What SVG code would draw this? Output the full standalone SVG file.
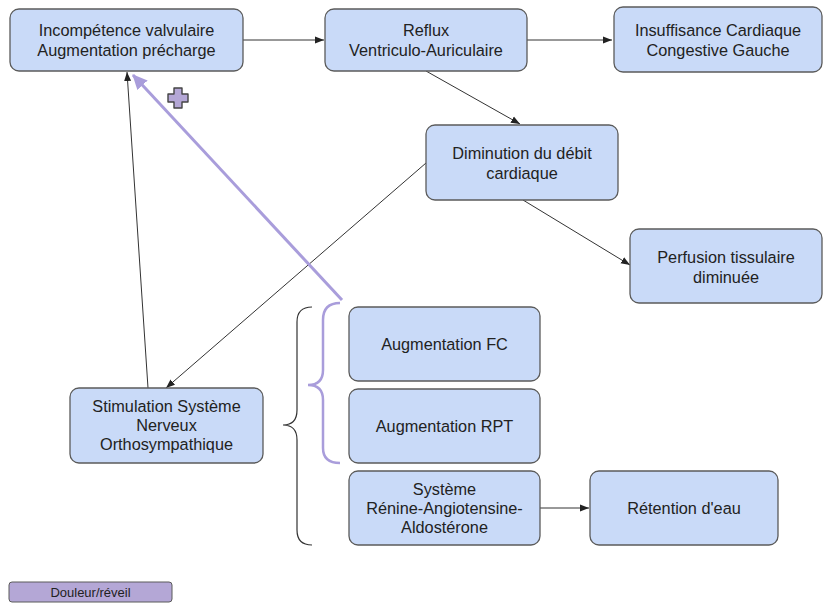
<svg xmlns="http://www.w3.org/2000/svg" width="826" height="605" viewBox="0 0 826 605">
<style>
.n{fill:#c9daf8;stroke:#5b5b5b;stroke-width:1.3}
.t{font-family:"Liberation Sans",Arial,sans-serif;font-size:16.3px;fill:#222;text-anchor:middle}
.c{stroke:#333;stroke-width:1;fill:none}
</style>
<defs>
<marker id="ah" markerWidth="10" markerHeight="8" refX="9" refY="4" orient="auto" markerUnits="userSpaceOnUse"><path d="M0,0.5 L9,4 L0,7.5 z" fill="#222"/></marker>
<marker id="ap" markerWidth="16" markerHeight="14" refX="14" refY="7" orient="auto" markerUnits="userSpaceOnUse"><path d="M0,0 L15,7 L0,14 z" fill="#a99ddb"/></marker>
</defs>
<rect width="826" height="605" fill="#fff"/>
<g id="connectors">
<line class="c" x1="243" y1="40" x2="324" y2="40" marker-end="url(#ah)"/>
<line class="c" x1="527" y1="40" x2="612" y2="40" marker-end="url(#ah)"/>
<line class="c" x1="426" y1="71" x2="520" y2="124" marker-end="url(#ah)"/>
<line class="c" x1="523" y1="200" x2="630" y2="265" marker-end="url(#ah)"/>
<line class="c" x1="426" y1="163" x2="166" y2="388" marker-end="url(#ah)"/>
<line class="c" x1="148" y1="388" x2="127" y2="72" marker-end="url(#ah)"/>
<line class="c" x1="540" y1="508" x2="589" y2="508" marker-end="url(#ah)"/>
<line x1="342" y1="300" x2="133" y2="75" stroke="#a99ddb" stroke-width="3" marker-end="url(#ap)"/>
<path d="M312,307 Q297,307 297,322 L297,410 Q297,425 283,425 Q297,425 297,440 L297,530 Q297,545 312,545" fill="none" stroke="#333" stroke-width="1.2"/>
<path d="M340,303 Q323,303 323,320 L323,370 Q323,385 308,385 Q323,385 323,400 L323,448 Q323,463 340,463" fill="none" stroke="#a99ddb" stroke-width="2.5"/>
</g>
<g id="plus">
<path d="M174,88 h8 v6 h6 v8 h-6 v6 h-8 v-6 h-6 v-8 h6 z" fill="#b4a7d6" stroke="#444" stroke-width="1.4" stroke-linejoin="round"/>
</g>
<g id="n1"><rect class="n" x="10" y="9" width="233" height="62" rx="9"/><text class="t" x="126.5" y="36">Incompétence valvulaire</text><text class="t" x="126.5" y="56">Augmentation précharge</text></g>
<g id="n2"><rect class="n" x="325" y="9" width="202" height="62" rx="9"/><text class="t" x="426" y="36">Reflux</text><text class="t" x="426" y="56">Ventriculo-Auriculaire</text></g>
<g id="n3"><rect class="n" x="614" y="7" width="208" height="65" rx="9"/><text class="t" x="718" y="36">Insuffisance Cardiaque</text><text class="t" x="718" y="56">Congestive Gauche</text></g>
<g id="n4"><rect class="n" x="426" y="125" width="192" height="75" rx="9"/><text class="t" x="522" y="159">Diminution du débit</text><text class="t" x="522" y="179">cardiaque</text></g>
<g id="n5"><rect class="n" x="630" y="229" width="192" height="74" rx="9"/><text class="t" x="726" y="263">Perfusion tissulaire</text><text class="t" x="726" y="283">diminuée</text></g>
<g id="n6"><rect class="n" x="349" y="307" width="191" height="74" rx="9"/><text class="t" x="444.5" y="350">Augmentation FC</text></g>
<g id="n7"><rect class="n" x="349" y="389" width="191" height="74" rx="9"/><text class="t" x="444.5" y="432">Augmentation RPT</text></g>
<g id="n8"><rect class="n" x="349" y="471" width="191" height="74" rx="9"/><text class="t" x="444.5" y="495">Système</text><text class="t" x="444.5" y="514">Rénine-Angiotensine-</text><text class="t" x="444.5" y="533">Aldostérone</text></g>
<g id="n9"><rect class="n" x="590" y="471" width="188" height="74" rx="9"/><text class="t" x="684" y="514">Rétention d'eau</text></g>
<g id="n10"><rect class="n" x="70" y="388" width="193" height="75" rx="9"/><text class="t" x="166.5" y="412">Stimulation Système</text><text class="t" x="166.5" y="431">Nerveux</text><text class="t" x="166.5" y="450">Orthosympathique</text></g>
<g id="legend"><rect x="9" y="582" width="163" height="20" rx="3" fill="#b4a7d6" stroke="#5b5b5b" stroke-width="1"/><text class="t" x="90.5" y="596.5" style="font-size:13px">Douleur/réveil</text></g>
</svg>
